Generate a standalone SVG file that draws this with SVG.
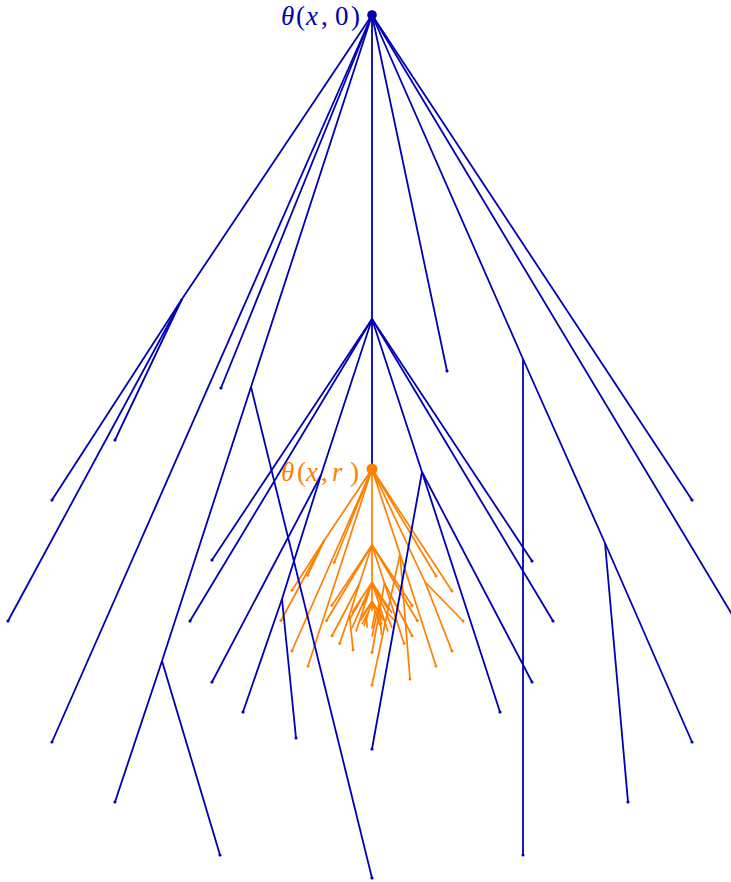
<svg xmlns="http://www.w3.org/2000/svg" width="731" height="882" viewBox="0 0 731 882">
<style>
.b{stroke:#0000b3;stroke-width:1.8;fill:none;vector-effect:non-scaling-stroke}
.o{stroke:#ff8000;stroke-width:1.7;fill:none;vector-effect:non-scaling-stroke}
.bl{marker-end:url(#dotB)}
.ol{marker-end:url(#dotO)}
.lbl{font-family:"Liberation Serif","DejaVu Serif",serif;font-size:27px}
.it{font-style:italic}
</style>
<defs>
<marker id="dotB" markerUnits="userSpaceOnUse" viewBox="0 0 4 4" markerWidth="4" markerHeight="4" refX="2" refY="2"><circle cx="2" cy="2" r="1.6" fill="#0000b3"/></marker>
<marker id="dotO" markerUnits="userSpaceOnUse" viewBox="0 0 4 4" markerWidth="4" markerHeight="4" refX="2" refY="2"><circle cx="2" cy="2" r="1.5" fill="#ff8000"/></marker>
</defs>
<g id="connectors">
<g id="orange-tree">
<g id="orange-l1">
<path class="o" d="M372 469L324.5 540M372 469L425 582M372 469L400 554M372 469L372 545M372 545L372 582.5M372 545L359.25 584M359.25 584L349.5 615M372 545L384.5 583.25"/>
<path class="o ol" d="M324.5 540L292 590.25"/>
<path class="o ol" d="M324.5 540L307.75 575.25"/>
<path class="o ol" d="M324.5 540L281 620.5"/>
<path class="o ol" d="M372 469L334.25 562.25"/>
<path class="o ol" d="M372 469L292 650.75"/>
<path class="o ol" d="M372 469L308 666"/>
<path class="o ol" d="M372 469L436 576"/>
<path class="o ol" d="M372 469L452 591"/>
<path class="o ol" d="M425 582L463 621"/>
<path class="o ol" d="M425 582L452 651"/>
<path class="o ol" d="M400 554L372 685"/>
<path class="o ol" d="M400 554L410 679"/>
<path class="o ol" d="M400 554L436 666"/>
<path class="o ol" d="M372 545L332 605.25"/>
<path class="o ol" d="M372 545L326.5 620.5"/>
<path class="o ol" d="M359.25 584L332 635.75"/>
<path class="o ol" d="M349.5 615L339.75 643.25"/>
<path class="o ol" d="M349.5 615L353 649.75"/>
<path class="o ol" d="M372 545L412 605.5"/>
<path class="o ol" d="M372 545L417.25 620.5"/>
<path class="o ol" d="M384.5 583.25L412 635.75"/>
<path class="o ol" d="M384.5 583.25L404 643.25"/>
<path class="o ol" d="M384.5 583.25L372 652.25"/>
</g>
<use href="#orange-l1" transform="matrix(0.25 0 0 0.25 279 465.25)"/>
</g>
<g id="blue-tree">
<path class="b" d="M372 15L182 299M372 15L251 387M251 387L162 661M372 15L372 319M372 319L372 469M372 15L523 359M523 359L605 543M372 319L321 475M321 475L282 599M372 319L422 472"/>
<path class="b bl" d="M182 299L52 500"/>
<path class="b bl" d="M182 299L115 440"/>
<path class="b bl" d="M182 299L8 621"/>
<path class="b bl" d="M372 15L221 388"/>
<path class="b bl" d="M372 15L52 742"/>
<path class="b bl" d="M162 661L115 802"/>
<path class="b bl" d="M162 661L220 855"/>
<path class="b bl" d="M251 387L372 878"/>
<path class="b bl" d="M372 15L447 371"/>
<path class="b bl" d="M523 359L523 855"/>
<path class="b bl" d="M605 543L628 802"/>
<path class="b bl" d="M605 543L692 742"/>
<path class="b bl" d="M372 15L692 500"/>
<path class="b bl" d="M372 15L736 621"/>
<path class="b bl" d="M372 319L212 560"/>
<path class="b bl" d="M372 319L190 621"/>
<path class="b bl" d="M321 475L212 682"/>
<path class="b bl" d="M282 599L243 712"/>
<path class="b bl" d="M282 599L296 738"/>
<path class="b bl" d="M372 319L532 561"/>
<path class="b bl" d="M372 319L553 621"/>
<path class="b bl" d="M422 472L532 682"/>
<path class="b bl" d="M422 472L500 712"/>
<path class="b bl" d="M422 472L372 749"/>
</g>
</g>
<g id="node-root">
<circle cx="372" cy="15" r="4.8" fill="#0000b3"/>
<text class="lbl" y="25" fill="#0000b3"><tspan class="it" x="281">θ</tspan><tspan x="296">(</tspan><tspan class="it" x="306">x</tspan><tspan x="321">,</tspan><tspan x="335">0</tspan><tspan x="351">)</tspan></text>
</g>
<g id="node-theta-r">
<circle cx="372" cy="469" r="5.5" fill="#ff8000"/>
<text class="lbl" y="481" fill="#ff8000"><tspan class="it" x="281">θ</tspan><tspan x="297">(</tspan><tspan class="it" x="306">x</tspan><tspan x="321">,</tspan><tspan class="it" x="332">r</tspan><tspan x="350">)</tspan></text>
</g>
</svg>
